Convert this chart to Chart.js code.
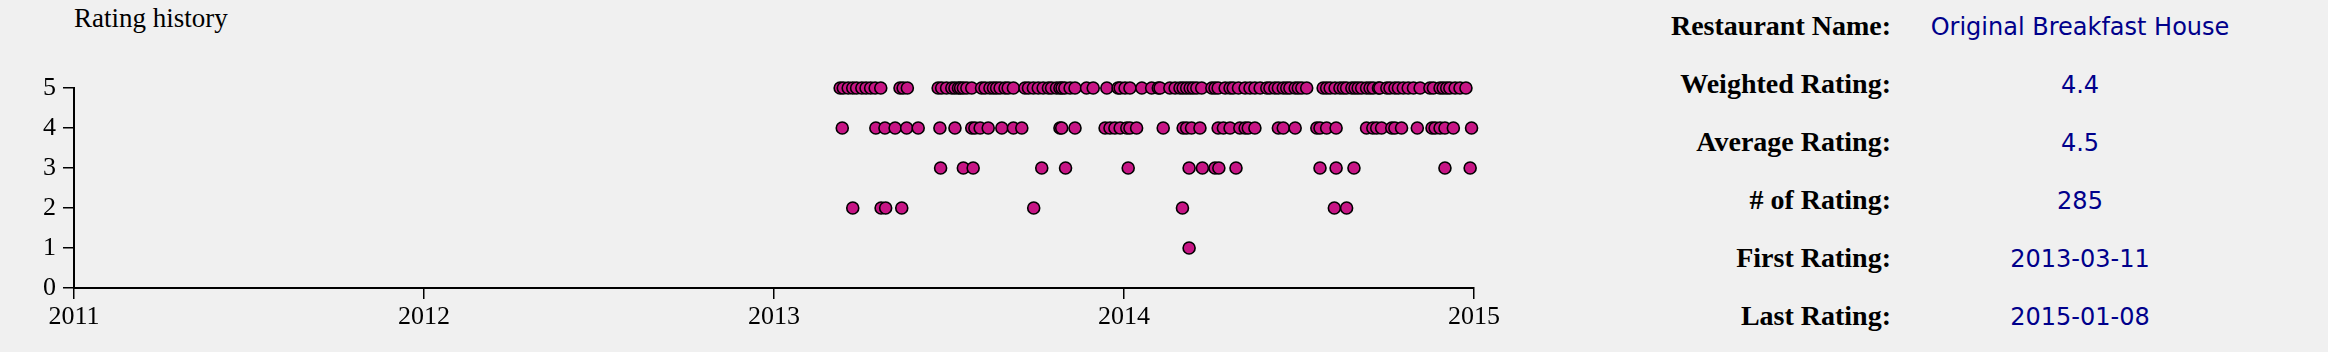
<!DOCTYPE html>
<html>
<head>
<meta charset="utf-8">
<script src="https://cdn.jsdelivr.net/npm/chart.js@4.4.0/dist/chart.umd.min.js"></script>
<style>
    html, body { margin: 0; padding: 0; background: #f0f0f0; }
    body { width: 2328px; height: 352px; position: relative; overflow: hidden; }
    #chartBox { position: absolute; left: 0; top: 0; width: 1540px; height: 352px; }
    #title { position: absolute; left: 74px; top: 5px; font: 27px/27px "Liberation Serif", "Times New Roman", serif; color: #000; }
    #info { position: absolute; left: 1600px; top: -3px; }
    .row { height: 58px; line-height: 58px; font: 28px/58px "Liberation Serif", serif; white-space: nowrap; }
    .lab { display: inline-block; width: 291px; text-align: right; font-weight: bold; color: #000; }
    .val { display: inline-block; width: 360px; margin-left: 9px; text-align: center; font: 24px/1 "DejaVu Sans", sans-serif; color: #00008b; }
</style>
</head>
<body>
<div id="title">Rating history</div>
<div id="chartBox"><canvas id="ratingChart"></canvas></div>
<div id="info"></div>

<script>
// ratings, as fractional years, one list per star value
const rating5Years = [
    2013.189, 2013.198, 2013.212, 2013.225, 2013.236, 2013.251, 2013.263, 2013.276, 2013.289, 2013.305,
    2013.360, 2013.369, 2013.381,
    2013.469, 2013.479, 2013.493, 2013.508, 2013.517, 2013.527, 2013.533, 2013.541, 2013.551, 2013.565,
    2013.593, 2013.603, 2013.617, 2013.627, 2013.636, 2013.646, 2013.660, 2013.669, 2013.684,
    2013.717, 2013.727, 2013.741, 2013.755, 2013.769, 2013.784,
    2013.793, 2013.807, 2013.817, 2013.823, 2013.831, 2013.846, 2013.860,
    2013.893, 2013.912, 2013.951, 2013.983, 2013.989, 2014.003, 2014.017, 2014.051, 2014.079, 2014.098,
    2014.103, 2014.131, 2014.146, 2014.160, 2014.169, 2014.179, 2014.189, 2014.198, 2014.208, 2014.222,
    2014.251, 2014.260, 2014.269, 2014.289, 2014.303, 2014.312, 2014.327, 2014.346, 2014.360, 2014.374,
    2014.389, 2014.408,
    2014.417, 2014.431, 2014.441, 2014.455, 2014.465, 2014.474, 2014.489, 2014.498, 2014.508, 2014.522,
    2014.569, 2014.579, 2014.589, 2014.603, 2014.617, 2014.627, 2014.636, 2014.651, 2014.660, 2014.669,
    2014.679, 2014.693, 2014.703, 2014.712, 2014.727,
    2014.731, 2014.751, 2014.760, 2014.774, 2014.784, 2014.798, 2014.812, 2014.827, 2014.846, 2014.874,
    2014.884, 2014.903, 2014.912, 2014.922, 2014.931, 2014.946, 2014.960, 2014.977
];
const rating4Years = [
    2013.195, 2013.291, 2013.317, 2013.346, 2013.379, 2013.412, 2013.474, 2013.517, 2013.565, 2013.574,
    2013.589, 2013.612, 2013.651, 2013.684, 2013.708, 2013.817, 2013.822, 2013.860, 2013.946, 2013.960,
    2013.974, 2013.989, 2014.008, 2014.017, 2014.036, 2014.112, 2014.169, 2014.179, 2014.193, 2014.217,
    2014.269, 2014.284, 2014.303, 2014.331, 2014.346, 2014.355, 2014.374, 2014.441, 2014.455, 2014.489,
    2014.551, 2014.560, 2014.579, 2014.606, 2014.693, 2014.711, 2014.722, 2014.736, 2014.765, 2014.774,
    2014.793, 2014.838, 2014.880, 2014.889, 2014.903, 2014.917, 2014.941, 2014.993
];
const rating3Years = [
    2013.476, 2013.541, 2013.569, 2013.765, 2013.833, 2014.012, 2014.186, 2014.224, 2014.260, 2014.271,
    2014.320, 2014.560, 2014.606, 2014.657, 2014.917, 2014.989
];
const rating2Years = [2013.225, 2013.306, 2013.319, 2013.365, 2013.742, 2014.167, 2014.601, 2014.636];
const rating1Years = [2014.186];

const yearTicks = [2011, 2012, 2013, 2014, 2015];
const starTicks = [0, 1, 2, 3, 4, 5];

const infoLabels = ['Restaurant Name:', 'Weighted Rating:', 'Average Rating:', '# of Rating:', 'First Rating:', 'Last Rating:'];
const infoValues = ['Original Breakfast House', '4.4', '4.5', '285', '2013-03-11', '2015-01-08'];

document.getElementById('info').innerHTML = infoLabels.map((l, i) =>
    `<div class="row"><span class="lab">${l}</span><span class="val">${infoValues[i]}</span></div>`).join('');

const points = [];
[[5, rating5Years], [4, rating4Years], [3, rating3Years], [2, rating2Years], [1, rating1Years]]
    .forEach(([stars, years]) => years.forEach(x => points.push({ x: x, y: stars })));

const axisFont = { family: '"Liberation Serif", "Times New Roman", serif', size: 26 };

new Chart(document.getElementById('ratingChart'), {
    type: 'scatter',
    data: {
        datasets: [{
            data: points,
            backgroundColor: '#c71585',
            borderColor: '#000',
            borderWidth: 1.6,
            pointRadius: 6,
            clip: false
        }]
    },
    options: {
        responsive: true,
        maintainAspectRatio: false,
        devicePixelRatio: 1,
        animation: false,
        events: [],
        layout: { padding: { top: 88, right: 66, bottom: 0, left: 0 } },
        plugins: { legend: { display: false }, tooltip: { enabled: false } },
        scales: {
            x: {
                type: 'linear',
                min: yearTicks[0],
                max: yearTicks[yearTicks.length - 1],
                afterBuildTicks: s => { s.ticks = yearTicks.map(v => ({ value: v })); },
                afterFit: s => { s.height = 64; },
                grid: { drawOnChartArea: false, drawTicks: true, tickLength: 11, color: '#000', lineWidth: 1.5 },
                border: { display: true, color: '#000', width: 2 },
                ticks: { color: '#000', padding: 3, font: axisFont, callback: v => String(v), maxRotation: 0 }
            },
            y: {
                min: starTicks[0],
                max: starTicks[starTicks.length - 1],
                afterBuildTicks: s => { s.ticks = starTicks.map(v => ({ value: v })); },
                afterFit: s => { s.width = 74; },
                grid: { drawOnChartArea: false, drawTicks: true, tickLength: 11, color: '#000', lineWidth: 1.5 },
                border: { display: true, color: '#000', width: 2 },
                ticks: { color: '#000', padding: 7, font: axisFont, callback: v => String(v) }
            }
        }
    }
});
</script>
</body>
</html>
